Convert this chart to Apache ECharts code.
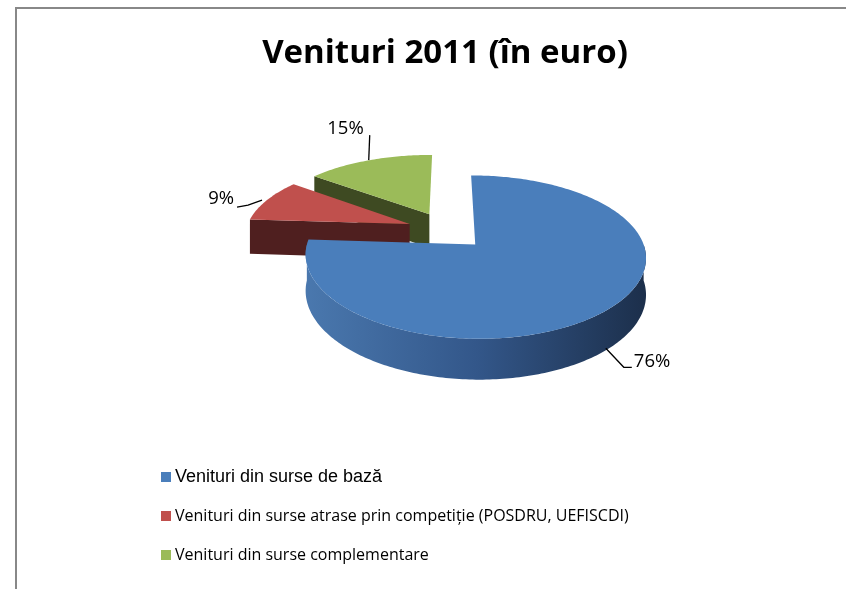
<!DOCTYPE html>
<html>
<head>
<meta charset="utf-8">
<script src="https://cdn.jsdelivr.net/npm/echarts@6/dist/echarts.min.js"></script>
<style>
  html, body { margin: 0; padding: 0; background: #fff; }
  #chart { width: 846px; height: 589px; }
</style>
</head>
<body>
<div id="chart"></div>
<script>
// data
const categories = [
  'Venituri din surse de bază',
  'Venituri din surse atrase prin competiție (POSDRU, UEFISCDI)',
  'Venituri din surse complementare'
];
const values = [76, 9, 15];

// colours
const topColors = ['#4a7ebb', '#c0504d', '#9bbb59'];
const faceColors = ['#223a5c', '#4f1f1f', '#3e4a22'];

// fake 3d projection of the tilted disk
const CX = 447, CY = 230.4, RX = 164, AY = 77.2, BY = 12.5, PERSP = 0.15, EXPLODE = 0.245;
function project(u, v, h) {
  return [CX + RX * u * (1 + PERSP * v), CY + AY * v + BY * v * v + h * (35 + 5 * v)];
}
const rad = d => d * Math.PI / 180;

// where each percentage label sits, relative to its anchor on the rim
const leaderLayout = [
  { h: 0.95, path: [[0, 0], [18, 19], [26, 19]], text: [28, 13], align: 'left' },
  { h: 0, path: [[-5, 0], [-19, 5], [-30, 7]], text: [-33, -1], align: 'right' },
  { h: 0, path: [[-1, 0], [0, -25]], text: [-6, -31], align: 'right' }
];

function drawSlice(i) {
  const total = values.reduce((a, b) => a + b, 0);
  let before = 0;
  for (let k = 0; k < i; k++) before += values[k];
  const a1 = before / total * 360;
  const a2 = (before + values[i]) / total * 360;
  const mid = (a1 + a2) / 2;
  const ou = EXPLODE * Math.sin(rad(mid));
  const ov = -EXPLODE * Math.cos(rad(mid));
  const rim = (t, h) => project(ou + Math.sin(rad(t)), ov - Math.cos(rad(t)), h);
  const apex = h => project(ou, ov, h);
  const arc = (from, to, h) => {
    const pts = [];
    const n = Math.max(2, Math.ceil(Math.abs(to - from)));
    for (let k = 0; k <= n; k++) pts.push(rim(from + (to - from) * k / n, h));
    return pts;
  };
  const face = a => ({
    type: 'polygon',
    shape: { points: [apex(0), rim(a, 0), rim(a, 1), apex(1)] },
    style: { fill: faceColors[i] }
  });

  const children = [];
  if (Math.sin(rad(a1)) < -0.01) children.push(face(a1));
  if (Math.sin(rad(a2)) > 0.01) children.push(face(a2));

  const lo = Math.max(a1, 90), hi = Math.min(a2, 270);
  if (hi > lo) {
    children.push({
      type: 'polygon',
      shape: { points: arc(lo, hi, 0).concat(arc(hi, lo, 1)) },
      style: {
        fill: new echarts.graphic.LinearGradient(0, 0, 1, 0, [
          { offset: 0, color: '#4a78ae' },
          { offset: 0.5, color: '#33578a' },
          { offset: 1, color: '#1c2f4b' }
        ])
      }
    });
  }
  children.push({
    type: 'polygon',
    shape: { points: [apex(0)].concat(arc(a1, a2, 0)) },
    style: { fill: topColors[i] }
  });

  // leader line + percentage
  const lay = leaderLayout[i];
  const anchor = rim(mid, lay.h);
  children.push({
    type: 'polyline',
    shape: { points: lay.path.map(p => [anchor[0] + p[0], anchor[1] + p[1]]) },
    style: { stroke: '#000', lineWidth: 1.3, fill: null }
  });
  children.push({
    type: 'text',
    x: anchor[0] + lay.text[0],
    y: anchor[1] + lay.text[1],
    style: {
      text: Math.round(values[i] / total * 100) + '%',
      fill: '#000',
      fontSize: 18.5,
      fontFamily: 'Open Sans',
      align: lay.align,
      verticalAlign: 'middle'
    }
  });
  return { type: 'group', children: children };
}

const chart = echarts.init(document.getElementById('chart'));

// back slices first so the front one covers them
const drawOrder = [2, 1, 0];

const legendTops = [462, 501, 540];
const legendFonts = [
  { fontFamily: 'Liberation Sans', fontSize: 18 },
  { fontFamily: 'Open Sans', fontSize: 16 },
  { fontFamily: 'Open Sans', fontSize: 16 }
];

const option = {
  animation: false,
  backgroundColor: '#fff',
  title: {
    text: 'Venituri 2011 (în euro)',
    left: 440,
    top: 32,
    textAlign: 'center',
    textStyle: {
      fontFamily: 'Open Sans',
      fontWeight: 'bold',
      fontSize: 33,
      color: '#000'
    }
  },
  legend: categories.map((name, i) => ({
    data: [name],
    left: 156,
    top: legendTops[i],
    icon: 'rect',
    itemWidth: 10,
    itemHeight: 10,
    selectedMode: false,
    textStyle: {
      color: '#000',
      fontFamily: legendFonts[i].fontFamily,
      fontSize: legendFonts[i].fontSize,
      lineHeight: 20,
      padding: [0, 0, 0, -1]
    }
  })),
  graphic: [{
    type: 'rect',
    shape: { x: 16, y: 8, width: 900, height: 700 },
    style: { fill: null, stroke: '#888', lineWidth: 2 },
    silent: true
  }],
  series: drawOrder.map((i, k) => ({
    type: 'custom',
    name: categories[i],
    coordinateSystem: 'none',
    z: 2 + k,
    itemStyle: { color: topColors[i] },
    renderItem: () => drawSlice(i),
    data: [values[i]]
  }))
};

chart.setOption(option);
</script>
</body>
</html>
